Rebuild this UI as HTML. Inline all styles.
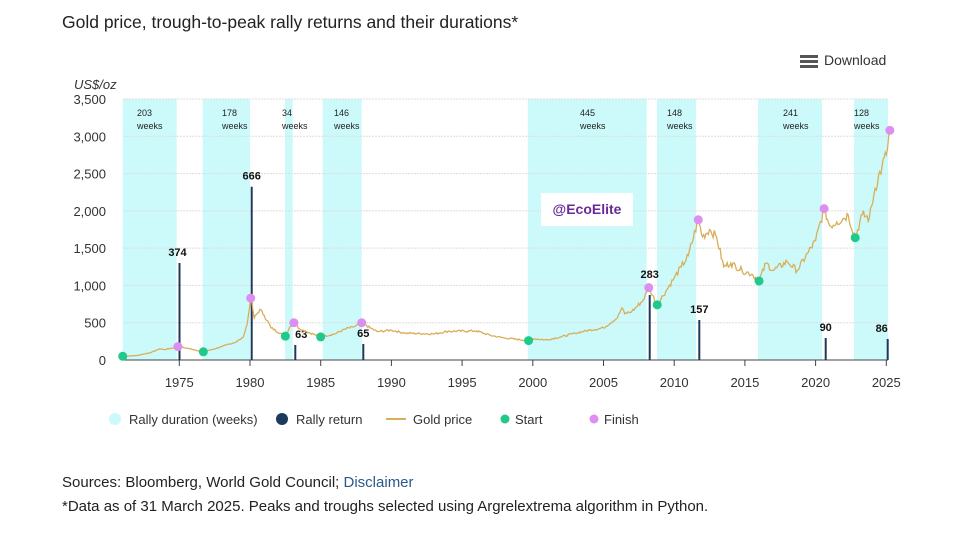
<!DOCTYPE html>
<html><head><meta charset="utf-8"><style>
body{margin:0;width:966px;height:541px;background:#fff;font-family:"Liberation Sans",Arial,sans-serif;overflow:hidden;position:relative}
.t{position:absolute;white-space:nowrap}
</style></head><body>
<div class="t" style="left:62px;top:12px;font-size:17.5px;color:#222">Gold price, trough-to-peak rally returns and their durations*</div>
<div class="t" style="left:800px;top:52px;font-size:14px;color:#333"><span style="display:inline-block;width:18px;vertical-align:middle;margin-right:6px"><span style="display:block;height:3px;background:#555;margin:2px 0"></span><span style="display:block;height:3px;background:#555;margin:2px 0"></span><span style="display:block;height:3px;background:#555;margin:2px 0"></span></span>Download</div>
<svg id="c" width="966" height="541" style="position:absolute;left:0;top:0" font-family="Liberation Sans, Arial, sans-serif"></svg>
<div class="t" style="left:541px;top:193px;width:92px;height:33px;background:#fff;color:#6a2a9a;font-weight:bold;font-size:14px;line-height:33px;text-align:center">@EcoElite</div>
<div class="t" style="left:62px;top:474px;font-size:15px;color:#222">Sources: Bloomberg, World Gold Council; <span style="color:#2a5a8a">Disclaimer</span></div>
<div class="t" style="left:62px;top:498px;font-size:15px;color:#222">*Data as of 31 March 2025. Peaks and troughs selected using Argrelextrema algorithm in Python.</div>
<script>
const X=y=>179.3+(y-1975)*14.14, Y=v=>360-v*0.07457;
let s='';
const bands=[[122.7,176.7,'203'],[202.7,250,'178'],[285,292.7,'34'],[322.7,361.7,'146'],[527.7,646.7,'445'],[657,696,'148'],[758,822,'241'],[854,888,'128']];
bands.forEach(b=>{s+=`<rect x="${b[0]}" y="99" width="${b[1]-b[0]}" height="261" fill="#ccfafa"/>`;});
for(let v=500;v<=3500;v+=500){s+=`<line x1="123" x2="888" y1="${Y(v)}" y2="${Y(v)}" stroke="#ddd" stroke-dasharray="2,1"/>`;}
for(let v=0;v<=3500;v+=500){s+=`<text x="106" y="${Y(v)+5}" font-size="13" fill="#333" text-anchor="end">${v.toLocaleString('en-US')}</text>`;}
s+=`<text x="74" y="89" font-size="13" font-style="italic" fill="#333">US$/oz</text>`;
const lx=[137,222,282,334,580,667,783,854];
bands.forEach((b,i)=>{s+=`<text x="${lx[i]}" y="116" font-size="9" fill="#222">${b[2]}</text><text x="${lx[i]}" y="129" font-size="9" fill="#222">weeks</text>`;});
s+=`<line x1="123" x2="888" y1="360" y2="360" stroke="#444"/>`;
for(let yr=1975;yr<=2025;yr+=5){s+=`<line x1="${X(yr)}" x2="${X(yr)}" y1="360" y2="366" stroke="#444"/><text x="${X(yr)}" y="387" font-size="13" fill="#333" text-anchor="middle">${yr}</text>`;}
const bars=[[179.5,263,'374',-2,0],[251.7,186.7,'666',0,0],[295.3,345,'63',6,0],[363.3,344,'65',0,0],[649.7,295,'283',0,-10],[699.3,320,'157',0,0],[825.7,338,'90',0,0],[887.7,339,'86',-6,0]];
bars.forEach(b=>{s+=`<line x1="${b[0]}" x2="${b[0]}" y1="${b[1]}" y2="360" stroke="#1b3a5c" stroke-width="2"/><text x="${b[0]+b[3]}" y="${b[1]-7+b[4]}" font-size="11" font-weight="bold" fill="#111" text-anchor="middle">${b[2]}</text>`;});
const g=[[1971,50],[1972,60],[1973,100],[1973.6,150],[1974,140],[1974.9,180],[1975.5,160],[1976,140],[1976.7,110],[1977.5,150],[1978,180],[1979,240],[1979.5,300],[1979.8,480],[1980.05,840],[1980.3,560],[1980.7,680],[1981,600],[1981.5,430],[1982.5,320],[1982.8,440],[1983.1,500],[1983.5,420],[1984,380],[1985,310],[1986,350],[1986.8,420],[1987.3,440],[1987.9,500],[1988.5,430],[1989,380],[1990,400],[1991,360],[1993,350],[1994,385],[1996,390],[1997,330],[1998,295],[1999.7,260],[2000,285],[2001,270],[2002,310],[2003,360],[2004,400],[2005,430],[2006,570],[2006.3,700],[2006.5,620],[2007,650],[2007.8,800],[2008.2,970],[2008.8,740],[2009.5,950],[2010,1100],[2010.5,1250],[2011,1400],[2011.7,1880],[2012,1650],[2012.5,1750],[2013,1650],[2013.5,1250],[2014,1300],[2014.8,1200],[2015.5,1150],[2016,1060],[2016.5,1300],[2017,1200],[2018,1320],[2018.7,1200],[2019.5,1450],[2020,1600],[2020.6,2030],[2021,1800],[2021.5,1850],[2022,1900],[2022.3,1950],[2022.8,1640],[2023.3,1950],[2023.8,1900],[2024.2,2300],[2024.7,2600],[2025,2750],[2025.25,3080]];
let pts=[],seed=7;const rnd=()=>{seed=(seed*9301+49297)%233280;return seed/233280-0.5;};
for(let i=0;i<g.length-1;i++){const [a,av]=g[i],[b,bv]=g[i+1];const n=Math.max(1,Math.round((b-a)*12));for(let k=0;k<n;k++){const t=k/n;let v=av+(bv-av)*t;if(k>0)v*=1+rnd()*0.07;pts.push([a+(b-a)*t,v]);}}
pts.push(g[g.length-1]);
s+=`<polyline fill="none" stroke="#d9ae5a" stroke-width="1.3" points="${pts.map(p=>X(p[0]).toFixed(1)+','+Y(p[1]).toFixed(1)).join(' ')}"/>`;
[[1971,50],[1976.7,110],[1982.5,320],[1985,310],[1999.7,260],[2008.8,740],[2016,1060],[2022.8,1640]].forEach(p=>{s+=`<circle cx="${X(p[0])}" cy="${Y(p[1])}" r="4.5" fill="#1ec98a"/>`;});
[[1974.9,180],[1980.05,830],[1983.1,500],[1987.9,500],[2008.2,970],[2011.7,1880],[2020.6,2030],[2025.25,3080]].forEach(p=>{s+=`<circle cx="${X(p[0])}" cy="${Y(p[1])}" r="4.5" fill="#dc8ff0"/>`;});
s+=`<circle cx="115" cy="419" r="6" fill="#ccfafa"/><text x="129" y="424" font-size="13" fill="#333">Rally duration (weeks)</text>
<circle cx="282" cy="419" r="6" fill="#1b3a5c"/><text x="296" y="424" font-size="13" fill="#333">Rally return</text>
<line x1="386" x2="406" y1="419" y2="419" stroke="#d9ae5a" stroke-width="2"/><text x="413" y="424" font-size="13" fill="#333">Gold price</text>
<circle cx="505" cy="419" r="4.5" fill="#1ec98a"/><text x="515" y="424" font-size="13" fill="#333">Start</text>
<circle cx="594" cy="419" r="4.5" fill="#dc8ff0"/><text x="604" y="424" font-size="13" fill="#333">Finish</text>`;
document.getElementById('c').innerHTML=s;
</script>
</body></html>
